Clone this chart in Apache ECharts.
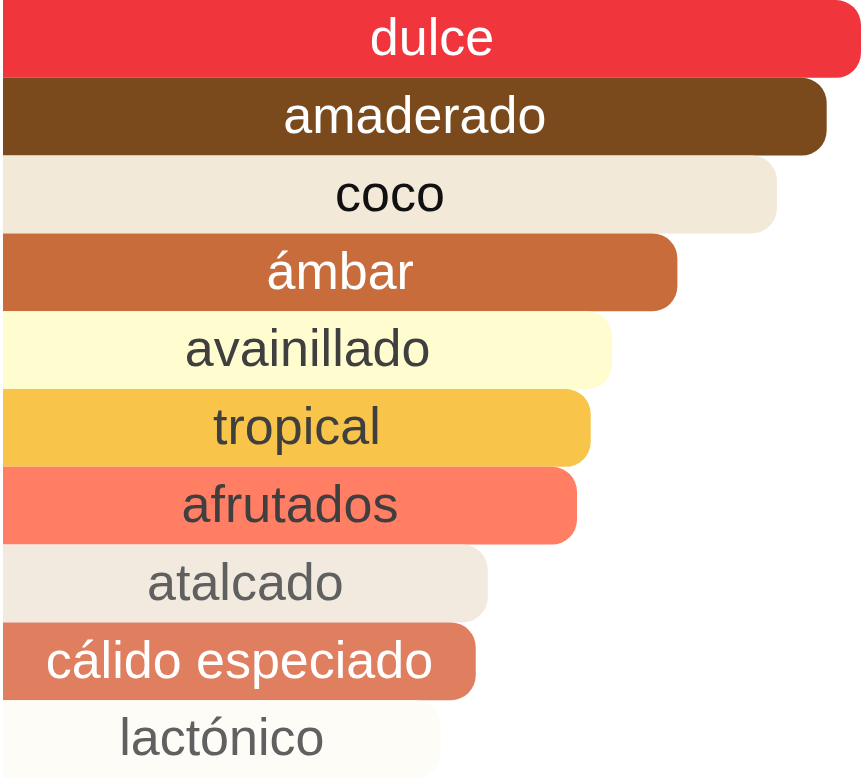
<!DOCTYPE html>
<html><head><meta charset="utf-8">
<script src="https://cdn.jsdelivr.net/npm/echarts@6/dist/echarts.min.js"></script>
<style>html,body{margin:0;padding:0;background:#fff}#c{width:863px;height:779px}</style>
</head><body><div id="c"></div>
<script>
const categories = ['dulce','amaderado','coco','ámbar','avainillado','tropical','afrutados','atalcado','cálido especiado','lactónico'];
const values = [100, 96, 90.2, 78.6, 71, 68.5, 66.9, 56.5, 55.1, 51];
const barColors = ['#F0353D','#7B4A1C','#F2E9D8','#C86C3C','#FFFDD0','#F8C54A','#FF7E64','#F2E9DF','#E07F60','#FDFCF7'];
const labelColors = ['#ffffff','#ffffff','#111111','#ffffff','#3f3f3f','#3f3f3f','#3f3f3f','#606060','#ffffff','#606060'];

const chart = echarts.init(document.getElementById('c'), null, {renderer:'canvas'});
chart.setOption({
  animation: false,
  grid: {left: 3, right: 2, top: 0, bottom: 1, containLabel: false},
  xAxis: {type: 'value', min: 0, max: 100, show: false},
  yAxis: {type: 'category', data: categories, inverse: true, show: false},
  series: [{
    type: 'bar',
    barCategoryGap: 0,
    data: values.map((v, i) => ({
      value: v,
      itemStyle: {color: barColors[i], borderRadius: [0, 25, 25, 0]},
      label: {color: labelColors[i]}
    })),
    label: {
      show: true,
      position: 'inside',
      offset: [0, 2],
      formatter: p => p.name,
      fontFamily: 'Liberation Sans, Arial, sans-serif',
      fontSize: 52
    }
  }]
});
</script></body></html>
